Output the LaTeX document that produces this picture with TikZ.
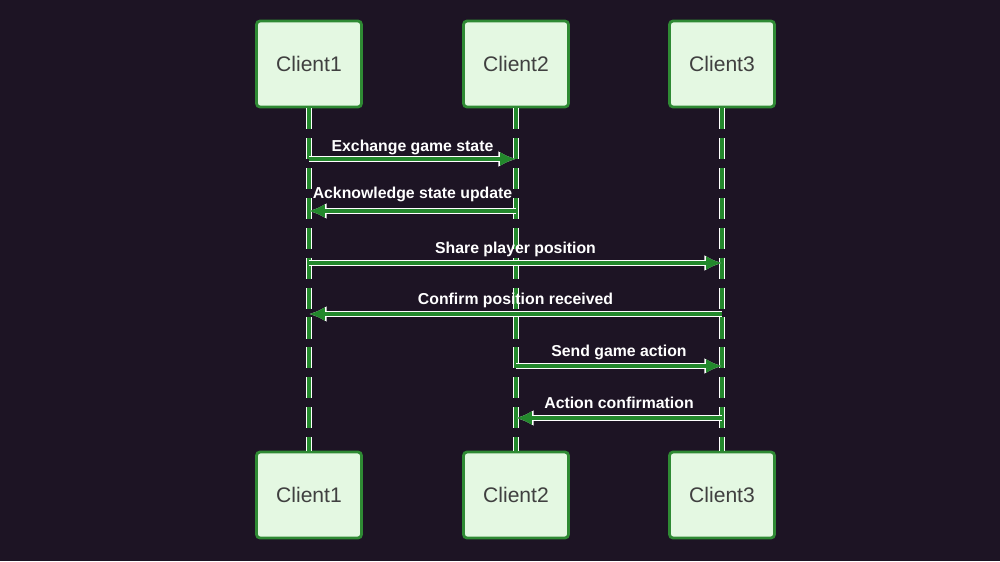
\documentclass[tikz,border=0pt]{standalone}
\usepackage{fontspec}
\setmainfont{Liberation Sans}
\usetikzlibrary{arrows.meta, positioning, calc}
\definecolor{bgpurple}{HTML}{1D1424}
\definecolor{boxfill}{HTML}{E4F8E2}
\definecolor{boxgreen}{HTML}{2F8A34}
\definecolor{msggreen}{HTML}{23882C}
\begin{document}
\begin{tikzpicture}[
      x=0.02cm, y=-0.02cm,
      actor/.style={rectangle, rounded corners=2pt, draw=boxgreen, line width=1.6pt,
                    minimum width=2.1cm, minimum height=1.72cm,
                    align=center, fill=boxfill, font=\large, text=black!75},
      life/.style={draw=msggreen, line width=2pt, dash pattern=on 12pt off 5pt,
                   preaction={draw=white, line width=3.6pt, dash pattern=on 12pt off 5pt}},
      msg/.style={-{Latex[length=9pt,width=8pt]}, draw=msggreen, line width=2pt,
                  preaction={draw=white, line width=3.6pt, -{Latex[length=10pt,width=9pt]}}},
      lbl/.style={font=\small\bfseries, text=white}
    ]
        \fill[bgpurple] (0,0) rectangle (1000,561);
        \useasboundingbox (0,0) rectangle (1000,561);
        % actors
        \node[actor] (c1t) at (309,64) {Client1};
        \node[actor] (c2t) at (516,64) {Client2};
        \node[actor] (c3t) at (722,64) {Client3};
        \node[actor] (c1b) at (309,495) {Client1};
        \node[actor] (c2b) at (516,495) {Client2};
        \node[actor] (c3b) at (722,495) {Client3};
        % lifelines
        \draw[life] (c1t) -- (c1b);
        \draw[life] (c2t) -- (c2b);
        \draw[life] (c3t) -- (c3b);
        % message anchors
        \foreach \y [count=\i] in {159,211,263,314,366,418} {
            \coordinate (a\i) at (309,\y);
            \coordinate (b\i) at (516,\y);
            \coordinate (c\i) at (722,\y);
        }
        \draw[msg] (a1) -- (b1) node[lbl, midway, above=-2pt] {Exchange game state};
        \draw[msg] (b2) -- (a2) node[lbl, midway, above=1pt] {Acknowledge state update};
        \draw[msg] (a3) -- (c3) node[lbl, midway, above=-1pt] {Share player position};
        \draw[msg] (c4) -- (a4) node[lbl, midway, above=-1pt] {Confirm position received};
        \draw[msg] (b5) -- (c5) node[lbl, midway, above=-1pt] {Send game action};
        \draw[msg] (c6) -- (b6) node[lbl, midway, above=1pt] {Action confirmation};
\end{tikzpicture}
\end{document}
